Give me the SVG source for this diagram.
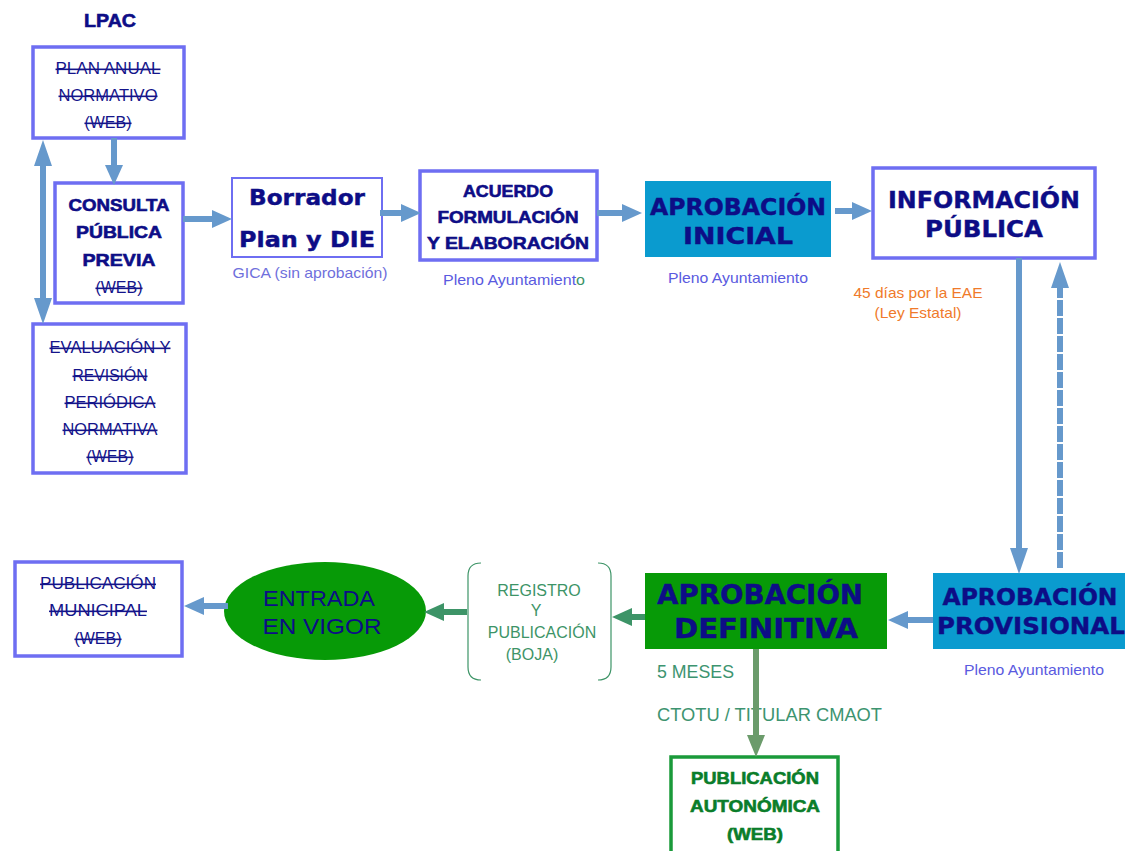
<svg xmlns="http://www.w3.org/2000/svg" width="1125" height="851" viewBox="0 0 1125 851">
<style>
.bx{fill:#fff;stroke:#6e6ef2;stroke-width:3.5}
.st{font-family:"Liberation Sans",Arial,sans-serif;font-size:16px;fill:#14148a;text-anchor:middle;text-decoration:line-through}
.bd{font-family:"Liberation Sans",Arial,sans-serif;font-weight:bold;font-size:17px;fill:#0d0d86;stroke:#0d0d86;stroke-width:0.6;text-anchor:middle}
.gd{fill:#0a7d2a;stroke:#0a7d2a}
.vb{font-family:"DejaVu Sans",Verdana,sans-serif;font-weight:bold;fill:#0d0d86;stroke:#0d0d86;stroke-width:0.4;text-anchor:middle}
.sm{font-family:"Liberation Sans",Arial,sans-serif;font-size:15px;fill:#5a5ae0;text-anchor:middle}
.or{fill:#f07a2a}
.ar{fill:none;stroke:#6699cc;stroke-width:6}
.ag{fill:none;stroke:#3d9467;stroke-width:6}
</style>
<defs>
<marker id="hb" markerUnits="userSpaceOnUse" markerWidth="20" markerHeight="18" refX="0" refY="9" orient="auto-start-reverse"><path d="M0,0 L20,9 L0,18 z" fill="#6699cc"/></marker>
<marker id="hbl" markerUnits="userSpaceOnUse" markerWidth="26" markerHeight="18" refX="0" refY="9" orient="auto-start-reverse"><path d="M0,0 L26,9 L0,18 z" fill="#6699cc"/></marker>
<marker id="hg" markerUnits="userSpaceOnUse" markerWidth="20" markerHeight="18" refX="0" refY="9" orient="auto"><path d="M0,0 L20,9 L0,18 z" fill="#3d9467"/></marker>
<marker id="hgg" markerUnits="userSpaceOnUse" markerWidth="22" markerHeight="18" refX="0" refY="9" orient="auto"><path d="M0,0 L22,9 L0,18 z" fill="#6b9b6b"/></marker>
</defs>

<text x="110" y="27" class="bd" style="font-size:19px" textLength="52" lengthAdjust="spacingAndGlyphs">LPAC</text>

<g id="plan-anual">
<rect class="bx" x="33" y="47" width="151" height="91"/>
<text class="st" x="108" y="74" textLength="105" lengthAdjust="spacingAndGlyphs">PLAN ANUAL</text>
<text class="st" x="108" y="101" textLength="99" lengthAdjust="spacingAndGlyphs">NORMATIVO</text>
<text class="st" x="108" y="128">(WEB)</text>
</g>

<g id="consulta">
<rect class="bx" x="55" y="183" width="128" height="120"/>
<text class="bd" x="119" y="211" textLength="101" lengthAdjust="spacingAndGlyphs">CONSULTA</text>
<text class="bd" x="119" y="238" textLength="86" lengthAdjust="spacingAndGlyphs">PÚBLICA</text>
<text class="bd" x="119" y="266" textLength="73" lengthAdjust="spacingAndGlyphs">PREVIA</text>
<text class="st" x="119" y="293">(WEB)</text>
</g>

<g id="evaluacion">
<rect class="bx" x="33" y="324" width="153" height="149"/>
<text class="st" x="110" y="353" textLength="121" lengthAdjust="spacingAndGlyphs">EVALUACIÓN Y</text>
<text class="st" x="110" y="381" textLength="75" lengthAdjust="spacingAndGlyphs">REVISIÓN</text>
<text class="st" x="110" y="408" textLength="91" lengthAdjust="spacingAndGlyphs">PERIÓDICA</text>
<text class="st" x="110" y="435" textLength="95" lengthAdjust="spacingAndGlyphs">NORMATIVA</text>
<text class="st" x="110" y="462">(WEB)</text>
</g>

<g id="borrador">
<rect x="232" y="178" width="150" height="79" fill="#fff" stroke="#6e6ef2" stroke-width="2"/>
<text class="vb" x="307" y="205" font-size="21" textLength="116" lengthAdjust="spacingAndGlyphs">Borrador</text>
<text class="vb" x="307" y="247" font-size="21" textLength="136" lengthAdjust="spacingAndGlyphs">Plan y DIE</text>
<text class="sm" x="310" y="278" textLength="155" lengthAdjust="spacingAndGlyphs" style="fill:#6f6fdc">GICA (sin aprobación)</text>
</g>

<g id="acuerdo">
<rect class="bx" x="420" y="171" width="177" height="89"/>
<text class="bd" x="508" y="197" textLength="90" lengthAdjust="spacingAndGlyphs">ACUERDO</text>
<text class="bd" x="508" y="223" textLength="141" lengthAdjust="spacingAndGlyphs">FORMULACIÓN</text>
<text class="bd" x="508" y="249" textLength="162" lengthAdjust="spacingAndGlyphs">Y ELABORACIÓN</text>
<text class="sm" x="514" y="285" textLength="142" lengthAdjust="spacingAndGlyphs">Pleno Ayuntamient<tspan style="fill:#3d9467">o</tspan></text>
</g>

<g id="aprobacion-inicial">
<rect x="645" y="181" width="186" height="76" fill="#0a9bcf"/>
<text class="vb" x="738" y="215" font-size="23" textLength="176" lengthAdjust="spacingAndGlyphs">APROBACIÓN</text>
<text class="vb" x="738" y="244" font-size="23" textLength="110" lengthAdjust="spacingAndGlyphs">INICIAL</text>
<text class="sm" x="738" y="283" textLength="140" lengthAdjust="spacingAndGlyphs">Pleno Ayuntamiento</text>
</g>

<g id="informacion-publica">
<rect class="bx" x="873" y="168" width="222" height="90" stroke-width="3"/>
<text class="vb" x="984" y="208" font-size="23" textLength="192" lengthAdjust="spacingAndGlyphs">INFORMACIÓN</text>
<text class="vb" x="984" y="237" font-size="23" textLength="118" lengthAdjust="spacingAndGlyphs">PÚBLICA</text>
<text class="sm or" x="918" y="298" style="fill:#f07a2a" textLength="129" lengthAdjust="spacingAndGlyphs">45 días por la EAE</text>
<text class="sm or" x="918" y="318" style="fill:#f07a2a" textLength="87" lengthAdjust="spacingAndGlyphs">(Ley Estatal)</text>
</g>

<g id="aprobacion-provisional">
<rect x="933" y="573" width="195" height="76" fill="#0a9bcf"/>
<text class="vb" x="1030" y="605" font-size="23" textLength="175" lengthAdjust="spacingAndGlyphs">APROBACIÓN</text>
<text class="vb" x="1031" y="634" font-size="23" textLength="188" lengthAdjust="spacingAndGlyphs">PROVISIONAL</text>
<text class="sm" x="1034" y="675" textLength="140" lengthAdjust="spacingAndGlyphs">Pleno Ayuntamiento</text>
</g>

<g id="aprobacion-definitiva">
<rect x="645" y="573" width="242" height="76" fill="#079a07"/>
<text class="vb" x="760" y="604" font-size="27" textLength="206" lengthAdjust="spacingAndGlyphs">APROBACIÓN</text>
<text class="vb" x="766" y="638" font-size="27" textLength="184" lengthAdjust="spacingAndGlyphs">DEFINITIVA</text>
<text x="657" y="678" font-family="Liberation Sans,Arial,sans-serif" font-size="18" fill="#3d9470" textLength="77" lengthAdjust="spacingAndGlyphs">5 MESES</text>
<text x="657" y="721" font-family="Liberation Sans,Arial,sans-serif" font-size="18" fill="#3d9470" textLength="225" lengthAdjust="spacingAndGlyphs">CTOTU / TITULAR CMAOT</text>
</g>

<g id="registro">
<path d="M481,563 Q468,563 468,576 V667 Q468,680 481,680 M598,563 Q611,563 611,576 V667 Q611,680 598,680" fill="none" stroke="#3d9467" stroke-width="1.2"/>
<g font-family="Liberation Sans,Arial,sans-serif" font-size="16" fill="#3d9467" text-anchor="middle">
<text x="539" y="596">REGISTRO</text>
<text x="536" y="616">Y</text>
<text x="542" y="638">PUBLICACIÓN</text>
<text x="532" y="660">(BOJA)</text>
</g>
</g>

<g id="entrada-vigor">
<ellipse cx="325" cy="611" rx="101" ry="49" fill="#079a07"/>
<text x="319" y="606" font-family="Liberation Sans,Arial,sans-serif" font-size="22" fill="#0d0d86" text-anchor="middle" textLength="112" lengthAdjust="spacingAndGlyphs">ENTRADA</text>
<text x="322" y="634" font-family="Liberation Sans,Arial,sans-serif" font-size="22" fill="#0d0d86" text-anchor="middle" textLength="119" lengthAdjust="spacingAndGlyphs">EN VIGOR</text>
</g>

<g id="publicacion-municipal">
<rect class="bx" x="15" y="562" width="167" height="94"/>
<text class="st" x="98" y="589" textLength="116" lengthAdjust="spacingAndGlyphs">PUBLICACIÓN</text>
<text class="st" x="98" y="616" textLength="98" lengthAdjust="spacingAndGlyphs">MUNICIPAL</text>
<text class="st" x="98" y="644">(WEB)</text>
</g>

<g id="publicacion-autonomica">
<rect x="671" y="757" width="167" height="100" fill="#fff" stroke="#1a9a3a" stroke-width="3.5"/>
<text class="bd gd" x="755" y="784" textLength="128" lengthAdjust="spacingAndGlyphs">PUBLICACIÓN</text>
<text class="bd gd" x="755" y="812" textLength="130" lengthAdjust="spacingAndGlyphs">AUTONÓMICA</text>
<text class="bd gd" x="755" y="840" textLength="56" lengthAdjust="spacingAndGlyphs">(WEB)</text>
</g>

<g id="connectors">
<path class="ar" d="M114,138 V165" marker-end="url(#hb)"/>
<path class="ar" d="M43,166 V298" marker-start="url(#hbl)" marker-end="url(#hbl)"/>
<path class="ar" d="M183,219 H212" marker-end="url(#hb)"/>
<path class="ar" d="M380,213 H401" marker-end="url(#hb)"/>
<path class="ar" d="M597,213 H622" marker-end="url(#hb)"/>
<path class="ar" d="M835,211 H852" marker-end="url(#hb)"/>
<path class="ar" d="M1019,258 V548" marker-end="url(#hbl)"/>
<path class="ar" d="M1060,568 V288" stroke-dasharray="16 2" marker-end="url(#hbl)"/>
<path class="ar" d="M933,620 H908" marker-end="url(#hb)"/>
<path class="ag" d="M645,617 H632" marker-end="url(#hg)"/>
<path class="ag" d="M467,612 H444" marker-end="url(#hg)"/>
<path class="ar" d="M228,606 H204" marker-end="url(#hb)"/>
<path d="M756,649 V735" fill="none" stroke="#6b9b6b" stroke-width="6" marker-end="url(#hgg)"/>
</g>
</svg>
